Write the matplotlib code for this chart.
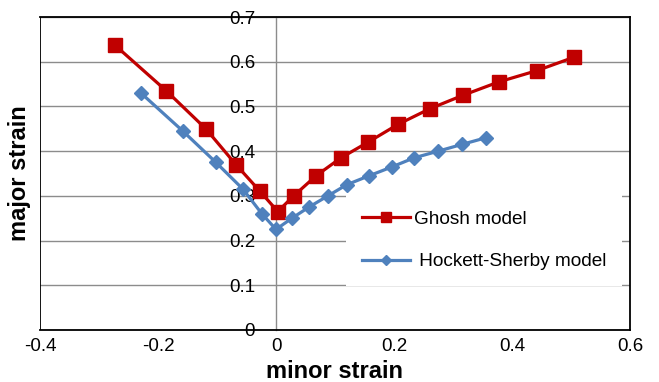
import matplotlib
matplotlib.use("Agg")
import matplotlib.pyplot as plt

plt.rcParams['font.family'] = ['Liberation Sans', 'DejaVu Sans']

ghosh_x = [-0.273, -0.186, -0.119, -0.068, -0.027, 0.003, 0.030, 0.068, 0.110, 0.156,
           0.207, 0.261, 0.317, 0.378, 0.442, 0.505]
ghosh_y = [0.637, 0.535, 0.450, 0.370, 0.310, 0.265, 0.300, 0.345, 0.385, 0.420,
           0.460, 0.495, 0.525, 0.555, 0.580, 0.610]

hs_x = [-0.229, -0.158, -0.102, -0.056, -0.024, 0.000, 0.027, 0.056, 0.088, 0.120,
        0.158, 0.197, 0.234, 0.275, 0.315, 0.356]
hs_y = [0.530, 0.445, 0.375, 0.315, 0.260, 0.225, 0.250, 0.275, 0.300, 0.325,
        0.345, 0.365, 0.385, 0.400, 0.415, 0.430]

x_ticks = [-0.4, -0.2, 0, 0.2, 0.4, 0.6]
x_tick_labels = ['-0.4', '-0.2', '0', '0.2', '0.4', '0.6']
y_ticks = [0, 0.1, 0.2, 0.3, 0.4, 0.5, 0.6, 0.7]
y_tick_labels = ['0', '0.1', '0.2', '0.3', '0.4', '0.5', '0.6', '0.7']

fig = plt.figure(figsize=(6.59, 3.82), dpi=100)
ax = fig.add_axes([40/659, 52/382, 590/659, 313/382])

ax.set_xlim(-0.4, 0.6)
ax.set_ylim(0, 0.7)

ax.grid(axis='y', color='#8c8c8c', linewidth=1.0, zorder=0)
ax.set_axisbelow(True)

ax.plot(ghosh_x, ghosh_y, color='#C00000', linewidth=2.3, marker='s',
        markersize=10, label='Ghosh model', zorder=3)
ax.plot(hs_x, hs_y, color='#4F81BD', linewidth=2.3, marker='D',
        markersize=7.3, label=' Hockett-Sherby model', zorder=3)

# y axis crossing at x = 0
ax.spines['left'].set_position(('data', 0))
ax.spines['left'].set_color('#8c8c8c')
ax.spines['left'].set_linewidth(1.0)
ax.spines['left'].set_zorder(1)
ax.axvline(-0.4, color='black', linewidth=1.3, zorder=4)
for s in ['top', 'right', 'bottom']:
    ax.spines[s].set_color('black')
    ax.spines[s].set_linewidth(1.3)

ax.set_xticks(x_ticks)
ax.set_xticklabels(x_tick_labels)
ax.set_yticks(y_ticks)
ax.set_yticklabels(y_tick_labels)
ax.tick_params(axis='both', length=0, labelsize=13.5)
ax.tick_params(axis='y', pad=15)
ax.tick_params(axis='x', pad=6)

ax.set_xlabel('minor strain', fontsize=17, fontweight='bold', labelpad=3)
ax.set_ylabel('major strain', fontsize=17, fontweight='bold')
ax.yaxis.set_label_coords(-0.015, 0.5)

leg = ax.legend(loc='center', bbox_to_anchor=(0.753, 0.286), frameon=True,
                fontsize=13.7, handlelength=2.5, handletextpad=0.2,
                labelspacing=1.3, borderpad=0.85, fancybox=False)
leg.get_frame().set_facecolor('white')
leg.get_frame().set_edgecolor('none')
leg.get_frame().set_alpha(1)
leg_lines = leg.get_lines()
leg_lines[0].set_markersize(7)
leg_lines[1].set_markersize(5)

fig.savefig('out.png', dpi=100)
